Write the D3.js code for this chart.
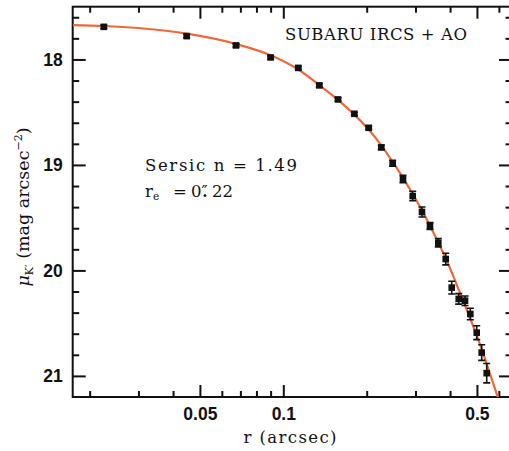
<!DOCTYPE html>
<html>
<head>
<meta charset="utf-8">
<script src="https://cdn.jsdelivr.net/npm/d3@7/dist/d3.min.js"></script>
<style>
  html, body { margin: 0; padding: 0; background: #ffffff; }
  svg { display: block; }
  .tick text { font-family: "Liberation Sans", Arial, sans-serif; font-weight: bold; font-size: 17.5px; fill: #111; }
  .serif { font-family: "DejaVu Serif", "Liberation Serif", serif; fill: #111; }
</style>
</head>
<body>
<script>
// Surface-brightness profile (K' band), SUBARU IRCS + AO
const radius = [0.0225, 0.0448, 0.0675, 0.0900, 0.1133, 0.1349, 0.1576, 0.1805,
                0.2034, 0.2258, 0.2482, 0.2704, 0.2932, 0.3167, 0.3385, 0.3627,
                0.3858, 0.4055, 0.4297, 0.4529, 0.4733, 0.4991, 0.5202, 0.5424];
const mu = [17.691, 17.779, 17.867, 17.981, 18.080, 18.246, 18.379, 18.515,
            18.648, 18.834, 18.985, 19.134, 19.295, 19.446, 19.579, 19.737,
            19.892, 20.163, 20.270, 20.287, 20.413, 20.590, 20.779, 20.974];
const muErr = [0.015, 0.015, 0.015, 0.015, 0.015, 0.015, 0.015, 0.015,
               0.015, 0.020, 0.028, 0.035, 0.045, 0.047, 0.032, 0.040,
               0.055, 0.060, 0.050, 0.045, 0.055, 0.066, 0.074, 0.092];

// Sersic model curve (n = 1.49, r_e = 0.22")
const fitR = [0.01737, 0.0225, 0.0299, 0.0448, 0.0675, 0.0900, 0.1133, 0.1349,
              0.1576, 0.1805, 0.2034, 0.2258, 0.2482, 0.2704, 0.2932, 0.3167,
              0.3385, 0.3618, 0.3868, 0.4133, 0.4416, 0.4721, 0.5046, 0.5393,
              0.5764, 0.6160];
const fitMu = [17.675, 17.683, 17.702, 17.756, 17.853, 17.960, 18.095, 18.243,
               18.383, 18.523, 18.665, 18.815, 18.972, 19.122, 19.275, 19.430,
               19.577, 19.731, 19.892, 20.072, 20.261, 20.451, 20.650, 20.868,
               21.095, 21.322];

// Axis ticks
const xMajor = [0.05, 0.1, 0.5];
const xMajorLabels = ["0.05", "0.1", "0.5"];
const xMinor = [0.02, 0.03, 0.04, 0.06, 0.07, 0.08, 0.09, 0.2, 0.3, 0.4, 0.6];
const yMajor = [18, 19, 20, 21];
const yMajorLabels = ["18", "19", "20", "21"];
const yMinor = [17.6, 17.8, 18.2, 18.4, 18.6, 18.8, 19.2, 19.4, 19.6, 19.8,
                20.2, 20.4, 20.6, 20.8];
const xDomain = [0.01737, 0.6692];
const yDomain = [17.5, 21.2];

const W = 509, H = 451;
const plotL = 72.7, plotR = 512, plotT = 6.7, plotB = 397;

const svg = d3.select("body").append("svg")
  .attr("width", W).attr("height", H)
  .attr("viewBox", `0 0 ${W} ${H}`);

const x = d3.scaleLog().domain(xDomain).range([plotL, plotR]);
const y = d3.scaleLinear().domain(yDomain).range([plotT, plotB]);

svg.append("defs").append("clipPath").attr("id", "plotclip")
  .append("rect").attr("x", plotL).attr("y", plotT)
  .attr("width", plotR - plotL).attr("height", plotB - plotT);

function styleAxis(g) {
  g.select(".domain").remove();
  g.selectAll(".tick line").attr("stroke", "#111").attr("stroke-width", 2);
}

// bottom axis
svg.append("g").attr("transform", `translate(0,${plotB})`)
  .call(d3.axisBottom(x).tickValues(xMajor).tickSize(-12).tickPadding(11)
    .tickFormat((d, i) => xMajorLabels[i]))
  .call(styleAxis);
svg.append("g").attr("transform", `translate(0,${plotB})`)
  .call(d3.axisBottom(x).tickValues(xMinor).tickSize(-6).tickFormat(""))
  .call(styleAxis);
// top axis
svg.append("g").attr("transform", `translate(0,${plotT})`)
  .call(d3.axisTop(x).tickValues(xMajor).tickSize(-12).tickFormat(""))
  .call(styleAxis);
svg.append("g").attr("transform", `translate(0,${plotT})`)
  .call(d3.axisTop(x).tickValues(xMinor).tickSize(-6).tickFormat(""))
  .call(styleAxis);
// left axis
svg.append("g").attr("transform", `translate(${plotL},0)`)
  .call(d3.axisLeft(y).tickValues(yMajor).tickSize(-13).tickPadding(10)
    .tickFormat((d, i) => yMajorLabels[i]))
  .call(styleAxis);
svg.append("g").attr("transform", `translate(${plotL},0)`)
  .call(d3.axisLeft(y).tickValues(yMinor).tickSize(-6.5).tickFormat(""))
  .call(styleAxis);
// right axis
svg.append("g").attr("transform", `translate(${plotR},0)`)
  .call(d3.axisRight(y).tickValues(yMajor).tickSize(-13).tickFormat(""))
  .call(styleAxis);
svg.append("g").attr("transform", `translate(${plotR},0)`)
  .call(d3.axisRight(y).tickValues(yMinor).tickSize(-6.5).tickFormat(""))
  .call(styleAxis);

// frame
svg.append("rect")
  .attr("x", plotL).attr("y", plotT)
  .attr("width", plotR - plotL).attr("height", plotB - plotT)
  .attr("fill", "none").attr("stroke", "#111").attr("stroke-width", 2);

// model curve
const fit = fitR.map((r, i) => [r, fitMu[i]]);
svg.append("path")
  .datum(fit)
  .attr("clip-path", "url(#plotclip)")
  .attr("fill", "none")
  .attr("stroke", "#f0683a")
  .attr("stroke-width", 2.2)
  .attr("d", d3.line().x(d => x(d[0])).y(d => y(d[1])).curve(d3.curveMonotoneX));

// data with error bars
const pts = radius.map((r, i) => ({ r, m: mu[i], e: muErr[i] }));
const pg = svg.append("g").attr("clip-path", "url(#plotclip)");
const eb = pg.selectAll("g.eb").data(pts).join("g").attr("class", "eb");
eb.append("line")
  .attr("x1", d => x(d.r)).attr("x2", d => x(d.r))
  .attr("y1", d => y(d.m - d.e)).attr("y2", d => y(d.m + d.e))
  .attr("stroke", "#111").attr("stroke-width", 1.6);
eb.append("line")
  .attr("x1", d => x(d.r) - 3.5).attr("x2", d => x(d.r) + 3.5)
  .attr("y1", d => y(d.m - d.e)).attr("y2", d => y(d.m - d.e))
  .attr("stroke", "#111").attr("stroke-width", 1.6);
eb.append("line")
  .attr("x1", d => x(d.r) - 3.5).attr("x2", d => x(d.r) + 3.5)
  .attr("y1", d => y(d.m + d.e)).attr("y2", d => y(d.m + d.e))
  .attr("stroke", "#111").attr("stroke-width", 1.6);
eb.append("rect")
  .attr("x", d => x(d.r) - 3.3).attr("y", d => y(d.m) - 3.3)
  .attr("width", 6.6).attr("height", 6.6).attr("fill", "#111");

// annotations
svg.append("text").attr("class", "serif")
  .attr("x", 285).attr("y", 39.5)
  .attr("font-size", 16.5)
  .attr("textLength", 182).attr("lengthAdjust", "spacing")
  .text("SUBARU IRCS + AO");

svg.append("text").attr("class", "serif")
  .attr("x", 145).attr("y", 171)
  .attr("font-size", 16.5)
  .attr("textLength", 152).attr("lengthAdjust", "spacing")
  .text("Sersic n = 1.49");

// r_e = 0".22, with the arcsecond mark set over the decimal point
const re = svg.append("text").attr("class", "serif")
  .attr("y", 197).attr("font-size", 16.5);
re.append("tspan").attr("x", 145).text("r");
re.append("tspan").attr("dy", 3).attr("font-size", 10.5).text("e");
re.append("tspan").attr("x", 173).attr("dy", -3).text("=");
re.append("tspan").attr("x", 191).text("0\u2033");
re.append("tspan").attr("x", 212).text("22");
svg.append("circle")
  .attr("cx", 205).attr("cy", 195.6).attr("r", 1.4).attr("fill", "#111");

// axis titles
svg.append("text").attr("class", "serif")
  .attr("x", 290).attr("y", 443)
  .attr("text-anchor", "middle")
  .attr("font-size", 16.5)
  .attr("textLength", 93).attr("lengthAdjust", "spacing")
  .text("r (arcsec)");

const yt = svg.append("text").attr("class", "serif")
  .attr("transform", "translate(29,207) rotate(-90)")
  .attr("text-anchor", "middle")
  .attr("font-size", 17.5);
yt.append("tspan").attr("font-style", "italic").text("\u03bc");
yt.append("tspan").attr("dy", 4).attr("font-size", 11).text("K\u2032");
yt.append("tspan").attr("dy", -4).text(" (mag arcsec");
yt.append("tspan").attr("dy", -7).attr("font-size", 11).text("\u22122");
yt.append("tspan").attr("dy", 7).text(")");
</script>
</body>
</html>
